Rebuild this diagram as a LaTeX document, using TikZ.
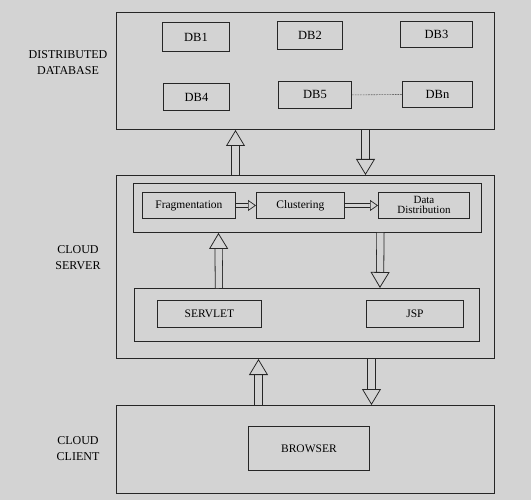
\documentclass[tikz,border=0pt]{standalone}
\usepackage{fontspec}
\setmainfont{Liberation Serif}
\usepackage{xcolor}
\usepackage{tikz}
\usetikzlibrary{arrows.meta, positioning, calc}
\definecolor{bggray}{HTML}{D3D3D3}
\definecolor{lnblack}{HTML}{262626}
\tikzset{
    tier/.style={
        draw=lnblack, line width=1pt, fill=none,
        inner sep=0pt, anchor=north west,
    },
    subtier/.style={
        draw=lnblack, line width=0.9pt, fill=none,
        inner sep=0pt, anchor=north west,
    },
    unit/.style={
        draw=lnblack, line width=0.9pt, fill=none,
        font=\fontsize{11.5}{11}\selectfont, align=center,
        inner sep=0pt, anchor=north west,
    },
    dbunit/.style={
        unit, font=\fontsize{12.5}{12}\selectfont,
    },
    tierlabel/.style={
        font=\fontsize{12}{16}\selectfont, align=center,
    },
    fatarr/.style={
        draw=lnblack, line width=0.8pt, double=bggray, double distance=6.5pt,
        -{Triangle[open, length=16pt, width=19pt]},
    },
    thinarr/.style={
        draw=lnblack, line width=0.7pt, double=bggray, double distance=3.5pt,
        -{Triangle[open, length=8pt, width=11pt]},
    },
}

\begin{document}
\begin{tikzpicture}[x=1pt, y=-1pt]

% background and frame
\fill[bggray] (0,0) rectangle (531,500);
\useasboundingbox (0,0) rectangle (531,500);

% ═══ DISTRIBUTED DATABASE ═══
\node[tier, minimum width=378pt, minimum height=117pt] (dbase) at (116,12) {};
\node[dbunit, minimum width=67pt, minimum height=29pt] (db1) at (162,22) {DB1};
\node[dbunit, minimum width=65pt, minimum height=28pt] (db2) at (277,21) {DB2};
\node[dbunit, minimum width=72pt, minimum height=26pt] (db3) at (400,21) {DB3};
\node[dbunit, minimum width=66pt, minimum height=27pt] (db4) at (163,83) {DB4};
\node[dbunit, minimum width=73pt, minimum height=27pt] (db5) at (278,81) {DB5};
\node[dbunit, minimum width=70pt, minimum height=26pt] (dbn) at (402,81) {DBn};
\draw[lnblack, densely dotted, line width=0.6pt] (db5.east) -- (dbn.west);
\node[tierlabel] (dblabel) at (68,63) {DISTRIBUTED\\DATABASE};

% ═══ CLOUD SERVER ═══
\node[tier, minimum width=378pt, minimum height=183pt] (server) at (116,175) {};
\node[subtier, minimum width=348pt, minimum height=49pt] (process) at (133,183) {};
\node[unit, minimum width=93pt, minimum height=26pt] (frag) at (142,192) {Fragmentation};
\node[unit, minimum width=88pt, minimum height=26pt] (clust) at (256,192) {Clustering};
\node[unit, minimum width=91pt, minimum height=26pt, font=\fontsize{11}{10}\selectfont] (distr) at (378,192) {Data\\Distribution};
\node[subtier, minimum width=345pt, minimum height=53pt] (web) at (134,288) {};
\node[unit, minimum width=104pt, minimum height=27pt] (servlet) at (157,300) {SERVLET};
\node[unit, minimum width=97pt, minimum height=27pt] (jsp) at (366,300) {JSP};
\node[tierlabel] (srvlabel) at (78,258) {CLOUD\\SERVER};

\draw[thinarr] (frag) -- (clust);
\draw[thinarr] (clust) -- (distr);
\draw[fatarr] ([xshift=-88pt]web.north) -- ([xshift=-89pt]process.south);
\draw[fatarr] ([xshift=73pt]process.south) -- ([xshift=73pt]web.north);

% ═══ CLOUD CLIENT ═══
\node[tier, minimum width=378pt, minimum height=88pt] (client) at (116,405) {};
\node[unit, minimum width=121pt, minimum height=44pt] (browser) at (248,426) {BROWSER};
\node[tierlabel] (cltlabel) at (78,449) {CLOUD\\CLIENT};

% Arrows between tiers
\draw[fatarr] ([xshift=-70pt]server.north) -- ([xshift=-70pt]dbase.south);
\draw[fatarr] ([xshift=60pt]dbase.south) -- ([xshift=60pt]server.north);
\draw[fatarr] ([xshift=-47pt]client.north) -- ([xshift=-47pt]server.south);
\draw[fatarr] ([xshift=66pt]server.south) -- ([xshift=66pt]client.north);

\end{tikzpicture}
\end{document}
